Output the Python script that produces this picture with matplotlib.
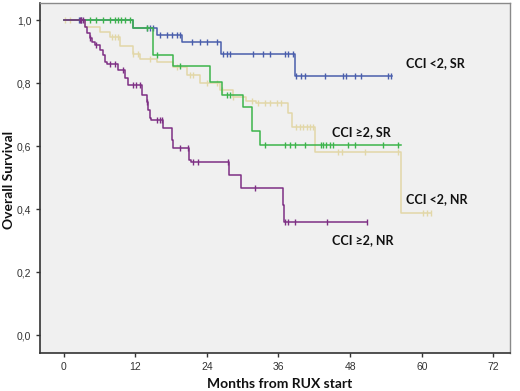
import numpy as np
import matplotlib
matplotlib.use("Agg")
import matplotlib.pyplot as plt

# step curves: event times (months) and survival after each step
blue_t = [0, 11.6, 15.6, 19.8, 26.4, 38.7]
blue_s = [1.0, 0.976, 0.953, 0.930, 0.895, 0.823]
blue_end = 55.0
blue_cens = [2.5, 3.0, 14.0, 14.5, 15.0, 16.2, 17.3, 18.1, 19.0, 19.5, 21.5, 22.8, 24.0, 25.7,
             26.7, 27.4, 27.9, 31.7, 33.4, 34.5, 37.1, 37.6, 38.4, 39.0, 39.8, 40.4, 43.8,
             46.8, 47.3, 48.8, 49.9, 54.4, 54.8]

green_t = [0, 11.6, 15.0, 18.4, 24.5, 26.5, 30.1, 31.5, 32.9]
green_s = [1.0, 0.976, 0.890, 0.856, 0.805, 0.763, 0.726, 0.650, 0.606]
green_end = 56.6
green_cens = [4.4, 5.5, 6.6, 7.7, 8.6, 9.1, 9.7, 10.3, 11.1, 14.0, 15.6, 19.5, 27.4, 27.9,
              33.7, 37.1, 37.9, 38.7, 40.4, 43.2, 43.5, 44.0, 44.6, 45.2, 47.7, 48.8, 53.5, 56.0]

tan_t = [0, 3.6, 6.1, 7.7, 9.4, 11.6, 12.8, 15.6, 18.3, 20.7, 22.8, 26.2, 28.4, 30.5, 32.2,
         37.6, 38.3, 42.1, 56.6]
tan_s = [1.0, 0.980, 0.964, 0.948, 0.920, 0.895, 0.879, 0.869, 0.853, 0.826, 0.800, 0.779,
         0.757, 0.745, 0.737, 0.705, 0.662, 0.583, 0.387]
tan_end = 61.6
tan_cens = [0.3, 1.0, 8.1, 8.6, 9.1, 11.6, 12.5, 14.5, 19.0, 21.2, 21.7, 24.0, 25.7, 26.5,
            28.4, 31.5, 32.6, 33.7, 34.6, 35.7, 36.5, 39.0, 39.6, 40.1, 40.7, 41.2, 41.8,
            46.0, 46.6, 50.5, 56.1, 60.2, 60.8, 61.6]

purple_t = [0, 3.6, 4.0, 4.4, 4.7, 5.2, 6.1, 6.6, 6.9, 7.2, 9.1, 10.3, 10.8, 13.1, 13.9,
            14.2, 14.5, 14.7, 16.7, 18.1, 18.4, 21.0, 21.4, 27.7, 29.8, 36.7, 37.0]
purple_s = [1.0, 0.980, 0.959, 0.943, 0.932, 0.922, 0.906, 0.890, 0.869, 0.863, 0.842, 0.816,
            0.795, 0.763, 0.742, 0.715, 0.689, 0.684, 0.657, 0.620, 0.594, 0.557, 0.551,
            0.509, 0.467, 0.414, 0.360]
purple_end = 50.8
purple_cens = [2.8, 3.0, 3.2, 4.5, 5.5, 7.7, 8.6, 10.0, 11.7, 12.2, 12.8, 14.0, 15.7, 16.2,
               16.5, 19.5, 20.8, 21.6, 22.5, 27.6, 32.0, 37.1, 37.6, 38.8, 44.1, 50.8]

labels = ["CCI <2, SR", "CCI \u22652, SR", "CCI <2, NR", "CCI \u22652, NR"]
label_pos = [(57.4, 0.865), (44.9, 0.646), (57.3, 0.432), (44.9, 0.303)]

colors = ["#4a5eac", "#3cb44b", "#e2d7a8", "#7e2f84"]

plt.rcParams['font.family'] = ['Lato', 'DejaVu Sans']

fig = plt.figure(figsize=(5.2, 3.91), dpi=100)
ax = fig.add_axes([0.0775, 0.098, 0.9035, 0.894])
ax.set_facecolor("#f0f0f0")

curves = [(blue_t, blue_s, blue_end, blue_cens),
          (green_t, green_s, green_end, green_cens),
          (tan_t, tan_s, tan_end, tan_cens),
          (purple_t, purple_s, purple_end, purple_cens)]

# draw tan first so others sit on top like the original
for i in [2, 0, 1, 3]:
    t, s, end, cens = curves[i]
    tt = list(t) + [end]
    ss = list(s) + [s[-1]]
    ax.step(tt, ss, where="post", color=colors[i], lw=1.1)
    idx = np.searchsorted(t, cens, side="right") - 1
    cy = np.array(s)[idx]
    ax.plot(cens, cy, ls="none", marker="|", ms=5, mew=1.0, color=colors[i])

for lab, (x, y) in zip(labels, label_pos):
    ax.text(x, y, lab, fontsize=9, fontweight="bold", color="#111111",
            ha="left", va="center", family=['Lato', 'DejaVu Sans'])

ax.set_xlim(-3.9, 74.8)
ax.set_ylim(-0.055, 1.055)
ax.set_xticks([0, 12, 24, 36, 48, 60, 72])
ax.set_yticks([0.0, 0.2, 0.4, 0.6, 0.8, 1.0])
ax.set_yticklabels(["0,0", "0,2", "0,4", "0,6", "0,8", "1,0"])
ax.tick_params(axis="both", labelsize=7.5, colors="#333333", length=3, width=1)
ax.tick_params(axis="x", pad=4)
for lab in ax.get_xticklabels() + ax.get_yticklabels():
    lab.set_family(['Liberation Sans', 'DejaVu Sans'])
for side in ["left", "bottom"]:
    ax.spines[side].set_color("#333333")
    ax.spines[side].set_linewidth(1.2)
for side in ["top", "right"]:
    ax.spines[side].set_color("#8a8a8a")
    ax.spines[side].set_linewidth(1.0)

fig.text(0.538, 0.018, "Months from RUX start", fontsize=10, fontweight="bold",
         ha="center", va="center", color="#111111")
fig.text(0.017, 0.54, "Overall Survival", fontsize=10, fontweight="bold",
         ha="center", va="center", rotation=90, color="#111111")

fig.savefig("out.png", dpi=100)
